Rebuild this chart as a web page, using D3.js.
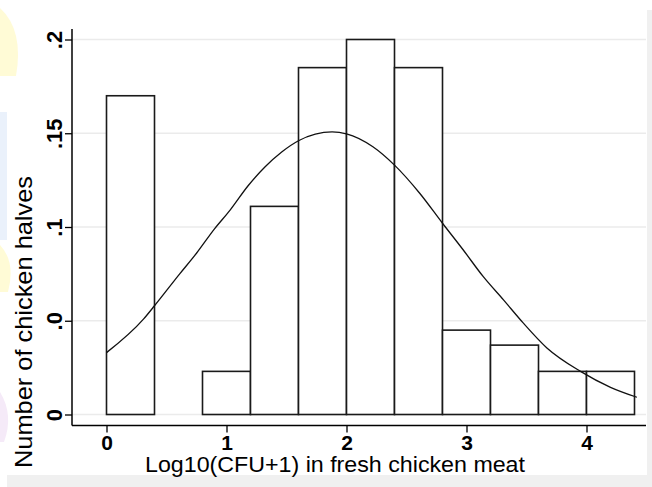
<!DOCTYPE html>
<html>
<head>
<meta charset="utf-8">
<script src="https://cdn.jsdelivr.net/npm/d3@7"></script>
<style>
  body { margin: 0; background: #fff; }
  svg { display: block; font-family: "Liberation Sans", Arial, sans-serif; }
</style>
</head>
<body>
<svg id="chart" width="652" height="487"></svg>
<script>
// histogram bins (lower edge, width 0.4) and their fractions
const binStarts = [0, 0.4, 0.8, 1.2, 1.6, 2.0, 2.4, 2.8, 3.2, 3.6, 4.0];
const binWidth = 0.4;
const binValues = [0.17, 0, 0.023, 0.111, 0.185, 0.2, 0.185, 0.045, 0.037, 0.023, 0.023];

// normal curve overlay
const curveX = [0, 0.31, 0.4, 0.61, 0.75, 0.9, 1.03, 1.18, 1.32, 1.46, 1.6, 1.74, 1.88, 2.0, 2.22, 2.4, 2.61, 2.8, 2.97, 3.14, 3.31, 3.47, 3.67, 3.95, 4.2, 4.42];
const curveY = [0.033, 0.051, 0.058, 0.075, 0.086, 0.099, 0.109, 0.122, 0.132, 0.140, 0.146, 0.1495, 0.1507, 0.1497, 0.1428, 0.133, 0.118, 0.102, 0.088, 0.0735, 0.061, 0.049, 0.0355, 0.023, 0.0145, 0.0092];

const xTicks = [0, 1, 2, 3, 4];
const yTicks = [0, 0.05, 0.1, 0.15, 0.2];
const yTickLabels = ["0", ".0", ".1", ".15", ".2"];

const svg = d3.select("#chart");

const x = d3.scaleLinear().domain([0, 4]).range([106.5, 586.5]);
const y = d3.scaleLinear().domain([0, 0.2]).range([414.5, 39.5]);

const plotLeft = 72, plotRight = 646, axisY = 425.5;

// faint background marks on the left edge
const bg = svg.append("g");
bg.append("path").attr("d", "M0,8 Q24,30 16,76 L0,76 Z").attr("fill", "#fffbd6");
bg.append("rect").attr("x", 0).attr("y", 112).attr("width", 7).attr("height", 128).attr("fill", "#eaf1fb");
bg.append("path").attr("d", "M0,245 Q16,262 8,292 L0,292 Z").attr("fill", "#fffbd6");
bg.append("path").attr("d", "M0,392 Q14,415 4,442 L0,442 Z").attr("fill", "#f5eaf8");

// grey frame strips
svg.append("rect").attr("x", 647).attr("y", 10).attr("width", 5).attr("height", 477).attr("fill", "#f0f0f0");
svg.append("rect").attr("x", 7).attr("y", 475).attr("width", 645).attr("height", 12).attr("fill", "#f0f0f0");

// gridlines
svg.append("g")
  .selectAll("line")
  .data(yTicks)
  .join("line")
  .attr("x1", plotLeft)
  .attr("x2", plotRight)
  .attr("y1", d => y(d))
  .attr("y2", d => y(d))
  .attr("stroke", "#ebebeb")
  .attr("stroke-width", 1.5);

// bars
const bins = binStarts.map((b, i) => ({ x0: b, x1: b + binWidth, v: binValues[i] })).filter(d => d.v > 0);
svg.append("g")
  .selectAll("rect")
  .data(bins)
  .join("rect")
  .attr("x", d => x(d.x0))
  .attr("y", d => y(d.v))
  .attr("width", d => x(d.x1) - x(d.x0))
  .attr("height", d => y(0) - y(d.v))
  .attr("fill", "#fff")
  .attr("stroke", "#1a1a1a")
  .attr("stroke-width", 1.6);

// normal curve
const line = d3.line()
  .x(d => x(d[0]))
  .y(d => y(d[1]))
  .curve(d3.curveMonotoneX);
svg.append("path")
  .datum(curveX.map((cx, i) => [cx, curveY[i]]))
  .attr("d", line)
  .attr("fill", "none")
  .attr("stroke", "#111")
  .attr("stroke-width", 1.3);

// y axis
const yAxis = svg.append("g")
  .attr("transform", `translate(${plotLeft},0)`)
  .call(d3.axisLeft(y).tickValues(yTicks).tickSize(7).tickFormat((d, i) => yTickLabels[i]));
yAxis.select(".domain").attr("d", `M0,29V${axisY}`).attr("stroke", "#000").attr("stroke-width", 1.5);
yAxis.selectAll(".tick line").attr("stroke", "#000").attr("stroke-width", 1.3);
yAxis.selectAll(".tick text")
  .attr("x", null).attr("dy", null)
  .attr("transform", "translate(-10,0) rotate(-90)")
  .attr("text-anchor", "middle")
  .attr("fill", "#000")
  .style("font-size", "22px")
  .style("font-weight", "bold")
  .style("font-family", "'Liberation Sans', Arial, sans-serif");

// x axis
const xAxis = svg.append("g")
  .attr("transform", `translate(0,${axisY})`)
  .call(d3.axisBottom(x).tickValues(xTicks).tickSize(7).tickFormat(d3.format("d")));
xAxis.select(".domain").attr("d", `M${plotLeft},0H${plotRight}`).attr("stroke", "#000").attr("stroke-width", 1.5);
xAxis.selectAll(".tick line").attr("stroke", "#000").attr("stroke-width", 1.3);
xAxis.selectAll(".tick text")
  .attr("y", 24).attr("dy", null)
  .attr("fill", "#000")
  .style("font-size", "21px")
  .style("font-weight", "bold")
  .style("font-family", "'Liberation Sans', Arial, sans-serif");

// axis titles
svg.append("text")
  .attr("x", 335)
  .attr("y", 472)
  .attr("text-anchor", "middle")
  .attr("textLength", 380)
  .attr("lengthAdjust", "spacingAndGlyphs")
  .style("font-size", "22px")
  .text("Log10(CFU+1) in fresh chicken meat");

svg.append("text")
  .attr("transform", "translate(32,322) rotate(-90)")
  .attr("text-anchor", "middle")
  .attr("textLength", 292)
  .attr("lengthAdjust", "spacingAndGlyphs")
  .style("font-size", "24px")
  .text("Number of chicken halves");
</script>
</body>
</html>
